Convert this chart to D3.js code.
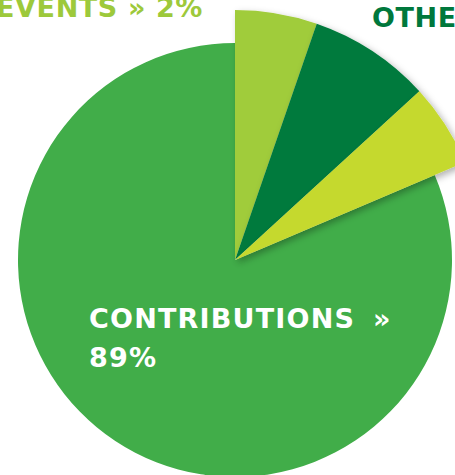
<!DOCTYPE html>
<html>
<head>
<meta charset="utf-8">
<script src="https://cdn.jsdelivr.net/npm/d3@7"></script>
<style>
  html, body { margin: 0; padding: 0; background: #fff; }
  svg { display: block; }
  text { font-family: "DejaVu Sans", sans-serif; font-weight: 700; }
</style>
</head>
<body>
<svg></svg>
<script>
// slice shares (clockwise from 12 o'clock)
const categories = ["Events", "Other", "Third", "Contributions"];
const shares = [5.3, 7.9, 5.4, 81.4];
const colors = ["#a0cc3a", "#007a3d", "#c5d92d", "#41ad49"];
const pulled = [true, true, true, false];

const w = 455;
const h = 475;
const cx = 235;
const cy = 260;
const rMain = 217;
const rOut = 250;

const svg = d3.select("svg")
  .attr("width", w)
  .attr("height", h);

const defs = svg.append("defs");
defs.append("filter")
  .attr("id", "shadow")
  .attr("x", "-20%").attr("y", "-20%")
  .attr("width", "140%").attr("height", "140%")
  .append("feDropShadow")
  .attr("dx", 3).attr("dy", 3)
  .attr("stdDeviation", 3.5)
  .attr("flood-color", "#000")
  .attr("flood-opacity", 0.3);

const pie = d3.pie().sort(null).value((d) => d);
const arcs = pie(shares);

const g = svg.append("g")
  .attr("transform", "translate(" + cx + "," + cy + ")");

const arcMain = d3.arc().innerRadius(0).outerRadius(rMain);
const arcOut = d3.arc().innerRadius(0).outerRadius(rOut);

// big slice first, the pulled-out ones on top with a shadow
g.append("path")
  .attr("d", arcMain(arcs[3]))
  .attr("fill", colors[3]);

g.selectAll("path.pulled")
  .data(arcs.filter((d, i) => pulled[i]))
  .enter()
  .append("path")
  .attr("class", "pulled")
  .attr("d", (d) => arcOut(d))
  .attr("fill", (d) => colors[d.index])
  .attr("filter", "url(#shadow)");

// labels
svg.append("text")
  .attr("x", 203).attr("y", 17)
  .attr("text-anchor", "end")
  .attr("font-size", 27)
  .attr("letter-spacing", 0.6)
  .attr("fill", "#9dc93b")
  .text("EVENTS » 2%");

svg.append("text")
  .attr("x", 372).attr("y", 27)
  .attr("font-size", 27)
  .attr("letter-spacing", 0.6)
  .attr("fill", "#00783c")
  .text("OTHER » 4%");

const t = svg.append("text")
  .attr("font-size", 27)
  .attr("letter-spacing", 1.2)
  .attr("fill", "#fff");
t.append("tspan").attr("x", 89).attr("y", 328).text("CONTRIBUTIONS");
t.append("tspan").attr("x", 373).attr("y", 328).text("»");
t.append("tspan").attr("x", 89).attr("y", 367).text("89%");
</script>
</body>
</html>
